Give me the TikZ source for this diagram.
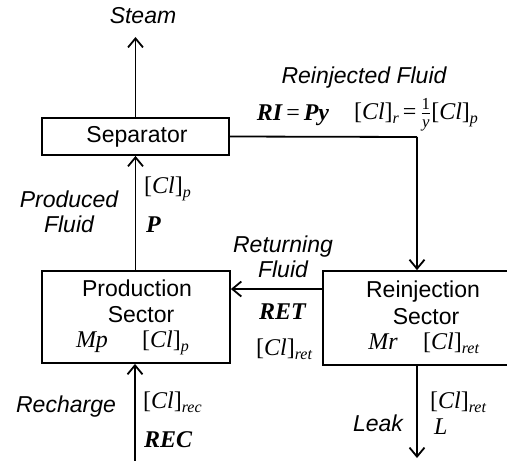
\documentclass[tikz,border=0pt]{standalone}
\usepackage{amsmath}
\usepackage{fontspec}
\setsansfont{Liberation Sans}
\newfontfamily\tms{Liberation Serif}
\usetikzlibrary{arrows.meta}
\newcommand\mi[1]{{\tms\itshape #1}}
\newcommand\mb[1]{{\tms\bfseries\itshape #1}}
\newcommand\sbs[1]{\raisebox{-0.35ex}{\fontsize{16}{16}\selectfont\mi{#1}}}
\newcommand\clc[1]{{\tms[}\mi{Cl}{\tms]}\sbs{#1}}
\begin{document}
\begin{tikzpicture}[x=1pt,y=-1pt,
  boxst/.style={draw,line width=1.8pt,inner sep=0pt},
  arr/.style={line width=1.8pt,-{Straight Barb[length=9pt,width=15pt,line width=1.8pt]}},
  ln/.style={line width=1.8pt},
  lbl/.style={font=\sffamily\itshape\fontsize{23}{25}\selectfont,inner sep=0pt,align=center},
  txt/.style={font=\sffamily\fontsize{23}{25}\selectfont,inner sep=0pt},
  mth/.style={font=\tms\fontsize{24}{26}\selectfont,inner sep=0pt}]
\useasboundingbox (0,0) rectangle (507,461);
% boxes
\node[boxst,minimum width=187pt,minimum height=37pt] (sep) at (135.5,136.5) {};
\node[boxst,minimum width=188pt,minimum height=92pt] (prod) at (136,317) {};
\node[boxst,minimum width=188pt,minimum height=94pt] (reinj) at (417,318) {};
% box texts
\node[txt] (septxt) at (137,137) {Separator};
\node[txt] (prodt1) at (137,288) {Production};
\node[txt] (prodt2) at (141,315) {Sector};
\node[mth] (mp) at (92,342) {\mi{Mp}};
\node[mth,anchor=west] (clp2) at (142,343) {\clc{p}};
\node[txt] (reit1) at (423,292) {Reinjection};
\node[txt] (reit2) at (426,317) {Sector};
\node[mth] (mr) at (383,342) {\mi{Mr}};
\node[mth,anchor=west] (clret2) at (423,343) {\clc{ret}};
% free ends
\coordinate (steamtip) at (135.5,37);
\coordinate (bend) at (417,137);
\coordinate (rectail) at (135,461);
\coordinate (leaktip) at (417,458);
% connectors
\draw[arr] (sep.north) -- (steamtip);
\draw[ln] (sep.east) -- (bend);
\draw[arr] (bend) -- (reinj.north);
\draw[arr] (prod.north -| sep.south) -- (sep.south);
\draw[arr] (reinj.west |- 0,289) -- (prod.east |- 0,289);
\draw[arr] (rectail) -- (rectail |- prod.south);
\draw[arr] (reinj.south) -- (leaktip);
% labels
\node[lbl] (steam) at (143,16) {Steam};
\node[lbl] (rf) at (364,78) {Reinjected Fluid};
\node[mth] (ri) at (293,115) {\mb{RI}\,=\,\mb{Py}};
\node[mth] (clr) at (416,115) {\clc{r}\,=\,$\frac{\text{\tms 1}}{\text{\mi{y}}}$\clc{p}};
\node[lbl] (pf) at (69,212) {Produced\\Fluid};
\node[mth,anchor=west] (clp1) at (144,189) {\clc{p}};
\node[mth,anchor=west] (pp) at (146,225) {\mb{P}};
\node[lbl] (retf) at (283,257) {Returning\\Fluid};
\node[mth,anchor=west] (ret) at (259,312) {\mb{RET}};
\node[mth,anchor=west] (clret1) at (256,349) {\clc{ret}};
\node[lbl] (rech) at (66,407) {Recharge};
\node[mth,anchor=west] (clrec) at (143,402) {\clc{rec}};
\node[mth,anchor=west] (rec) at (144,440) {\mb{REC}};
\node[lbl] (leak) at (378,423) {Leak};
\node[mth,anchor=west] (clret3) at (430,402) {\clc{ret}};
\node[mth,anchor=west] (ll) at (434,427) {\mi{L}};
\end{tikzpicture}
\end{document}
